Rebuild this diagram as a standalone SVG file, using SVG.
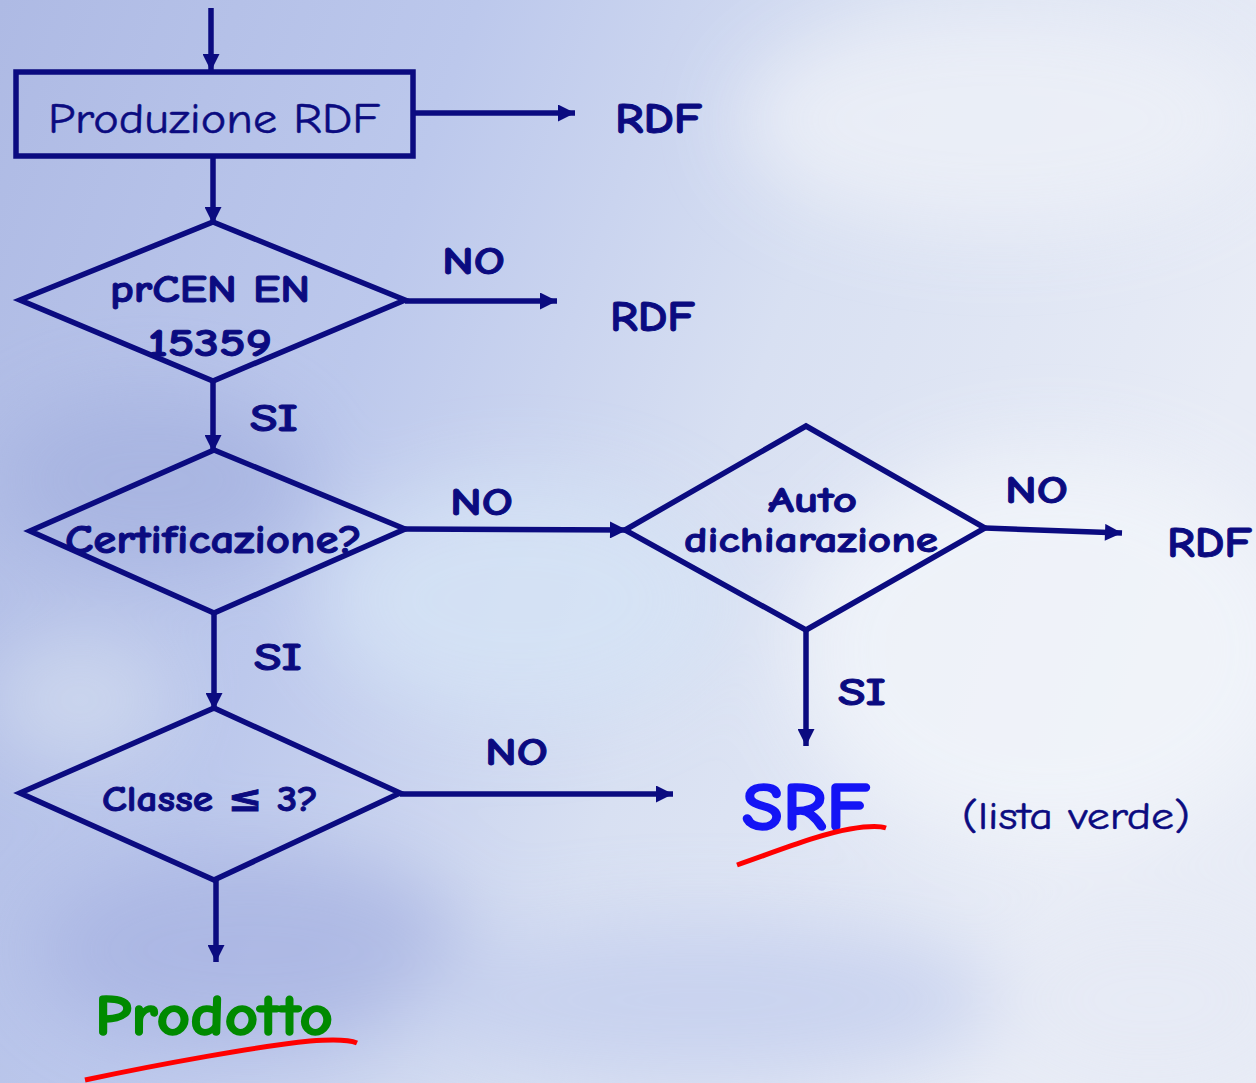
<svg xmlns="http://www.w3.org/2000/svg" width="1256" height="1083" viewBox="0 0 1256 1083">
<defs>
<linearGradient id="sky" x1="0" y1="0" x2="1" y2="0.3">
<stop offset="0" stop-color="#aebae4"/>
<stop offset="0.35" stop-color="#bcc8ec"/>
<stop offset="0.65" stop-color="#d8e0f2"/>
<stop offset="1" stop-color="#e8ecf6"/>
</linearGradient>
<filter id="blur" x="-50%" y="-50%" width="200%" height="200%"><feGaussianBlur stdDeviation="40"/></filter>
<marker id="ah" viewBox="0 0 10 10" refX="10" refY="5" markerWidth="19" markerHeight="17" markerUnits="userSpaceOnUse" orient="auto">
<path d="M0,0 L10,5 L0,10 z" fill="#0b0b80"/>
</marker>
<style>
.ln{stroke:#0b0b80;stroke-width:5.5;fill:none}
.shape{stroke:#0b0b80;stroke-width:5.5;fill:none;stroke-linejoin:miter}
.t{font-family:"Comic Sans MS","Comic Neue","DejaVu Sans",sans-serif;fill:#0b0b80}
.b{font-weight:bold;stroke:#0b0b80;stroke-width:0.9}
.ul{stroke:#ff0000;stroke-width:5;fill:none;stroke-linecap:butt}
</style>
</defs>
<rect width="1256" height="1083" fill="url(#sky)"/>
<g filter="url(#blur)" opacity="0.8">
<ellipse cx="1000" cy="120" rx="260" ry="110" fill="#eef1f8"/>
<ellipse cx="1050" cy="650" rx="260" ry="200" fill="#f2f5fa"/>
<ellipse cx="520" cy="600" rx="200" ry="120" fill="#d6e4f6"/>
<ellipse cx="80" cy="700" rx="90" ry="60" fill="#d2dcef"/>
<ellipse cx="150" cy="480" rx="160" ry="90" fill="#a6b2e0"/>
<ellipse cx="250" cy="950" rx="220" ry="100" fill="#a8b4e2"/>
<ellipse cx="700" cy="1000" rx="300" ry="80" fill="#c4cfee"/>
<ellipse cx="1150" cy="1000" rx="150" ry="90" fill="#e6eaf5"/>
</g>

<g id="connectors">
<line class="ln" x1="211" y1="8" x2="211" y2="71" marker-end="url(#ah)"/>
<line class="ln" x1="413" y1="113" x2="575" y2="113" marker-end="url(#ah)"/>
<line class="ln" x1="213" y1="158" x2="213" y2="224" marker-end="url(#ah)"/>
<line class="ln" x1="405" y1="301" x2="557" y2="301" marker-end="url(#ah)"/>
<line class="ln" x1="213" y1="381" x2="213" y2="452" marker-end="url(#ah)"/>
<line class="ln" x1="405" y1="529" x2="627" y2="530" marker-end="url(#ah)"/>
<line class="ln" x1="985" y1="528" x2="1122" y2="533" marker-end="url(#ah)"/>
<line class="ln" x1="806" y1="630" x2="806" y2="746" marker-end="url(#ah)"/>
<line class="ln" x1="214" y1="613" x2="214" y2="710" marker-end="url(#ah)"/>
<line class="ln" x1="400" y1="794" x2="673" y2="794" marker-end="url(#ah)"/>
<line class="ln" x1="216" y1="880" x2="216" y2="962" marker-end="url(#ah)"/>
</g>

<g id="produzione">
<rect class="shape" x="16" y="72" width="397" height="84"/>
<text class="t" x="48" y="133" font-size="42" style="stroke:#0b0b80;stroke-width:0.5" textLength="332" lengthAdjust="spacingAndGlyphs">Produzione RDF</text>
</g>
<g id="rdf1"><text class="t b" x="615" y="133" font-size="42" textLength="87" lengthAdjust="spacingAndGlyphs">RDF</text></g>

<g id="prcen">
<polygon class="shape" points="213,222 405,300 213,381 20,300"/>
<text class="t b" x="110" y="302" font-size="38" textLength="200" lengthAdjust="spacingAndGlyphs">prCEN EN</text>
<text class="t b" x="148" y="356" font-size="38" textLength="124" lengthAdjust="spacingAndGlyphs">15359</text>
</g>
<g id="lbl-no1"><text class="t b" x="442" y="274" font-size="38" textLength="63" lengthAdjust="spacingAndGlyphs">NO</text></g>
<g id="rdf2"><text class="t b" x="610" y="331" font-size="42" textLength="85" lengthAdjust="spacingAndGlyphs">RDF</text></g>
<g id="lbl-si1"><text class="t b" x="250" y="431" font-size="38" textLength="48" lengthAdjust="spacingAndGlyphs">SI</text></g>

<g id="certificazione">
<polygon class="shape" points="214,450 405,529 214,613 30,531"/>
<text class="t b" x="65" y="553" font-size="40" textLength="297" lengthAdjust="spacingAndGlyphs">Certificazione?</text>
</g>
<g id="lbl-no2"><text class="t b" x="450" y="515" font-size="38" textLength="63" lengthAdjust="spacingAndGlyphs">NO</text></g>

<g id="autodichiarazione">
<polygon class="shape" points="806,426 985,528 806,630 625,530"/>
<text class="t b" x="768" y="512" font-size="37" textLength="89" lengthAdjust="spacingAndGlyphs">Auto</text>
<text class="t b" x="684" y="552" font-size="37" textLength="254" lengthAdjust="spacingAndGlyphs">dichiarazione</text>
</g>
<g id="lbl-no3"><text class="t b" x="1005" y="503" font-size="38" textLength="63" lengthAdjust="spacingAndGlyphs">NO</text></g>
<g id="rdf3"><text class="t b" x="1167" y="557" font-size="42" textLength="85" lengthAdjust="spacingAndGlyphs">RDF</text></g>
<g id="lbl-si3"><text class="t b" x="838" y="705" font-size="38" textLength="48" lengthAdjust="spacingAndGlyphs">SI</text></g>
<g id="lbl-si2"><text class="t b" x="254" y="670" font-size="38" textLength="48" lengthAdjust="spacingAndGlyphs">SI</text></g>

<g id="classe">
<polygon class="shape" points="214,708 400,793 214,880 20,793"/>
<text class="t b" x="102" y="811" font-size="37" textLength="216" lengthAdjust="spacingAndGlyphs">Classe ≤ 3?</text>
</g>
<g id="lbl-no4"><text class="t b" x="485" y="765" font-size="38" textLength="63" lengthAdjust="spacingAndGlyphs">NO</text></g>

<g id="srf">
<text class="t b" x="742" y="830" font-size="68" style="fill:#1414f5;stroke:#1414f5;stroke-width:1.5" textLength="128" lengthAdjust="spacingAndGlyphs">SRF</text>
<path class="ul" d="M737,865 C780,850 820,834 850,829 C868,826 880,826 886,828"/>
</g>
<g id="lista"><text class="t" x="962" y="829" font-size="38" style="stroke:#0b0b80;stroke-width:0.5" textLength="228" lengthAdjust="spacingAndGlyphs">(lista verde)</text></g>

<g id="prodotto">
<text class="t b" x="95" y="1035" font-size="58" style="fill:#008a00;stroke:#008a00;stroke-width:1.5" textLength="238" lengthAdjust="spacingAndGlyphs">Prodotto</text>
<path class="ul" d="M85,1080 C160,1064 260,1046 310,1041 C335,1039 350,1040 357,1043"/>
</g>
</svg>
